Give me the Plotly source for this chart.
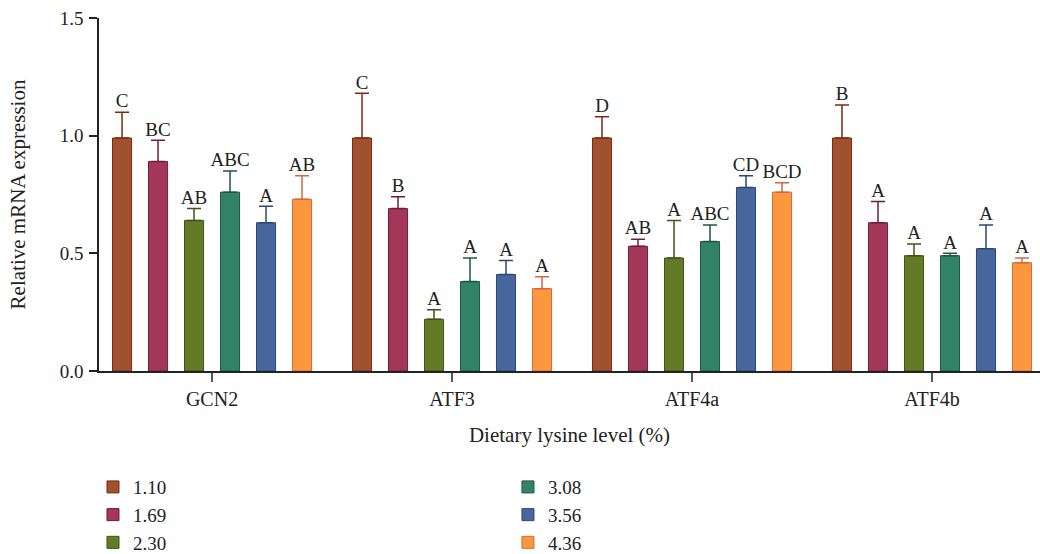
import plotly.graph_objects as go

genes = ["GCN2", "ATF3", "ATF4a", "ATF4b"]
levels = ["1.10", "1.69", "2.30", "3.08", "3.56", "4.36"]

means = {
    "1.10": [0.99, 0.99, 0.99, 0.99],
    "1.69": [0.89, 0.69, 0.53, 0.63],
    "2.30": [0.64, 0.22, 0.48, 0.49],
    "3.08": [0.76, 0.38, 0.55, 0.49],
    "3.56": [0.63, 0.41, 0.78, 0.52],
    "4.36": [0.73, 0.35, 0.76, 0.46],
}
upper = {
    "1.10": [1.10, 1.18, 1.08, 1.13],
    "1.69": [0.98, 0.74, 0.56, 0.72],
    "2.30": [0.69, 0.26, 0.64, 0.54],
    "3.08": [0.85, 0.48, 0.62, 0.50],
    "3.56": [0.70, 0.47, 0.83, 0.62],
    "4.36": [0.83, 0.40, 0.80, 0.48],
}
letters = {
    "1.10": ["C", "C", "D", "B"],
    "1.69": ["BC", "B", "AB", "A"],
    "2.30": ["AB", "A", "A", "A"],
    "3.08": ["ABC", "A", "ABC", "A"],
    "3.56": ["A", "A", "CD", "A"],
    "4.36": ["AB", "A", "BCD", "A"],
}
fill_colors = ["#A0522F", "#A3375A", "#627B27", "#318267", "#48669E", "#FB983F"]
line_colors = ["#7A2A14", "#6E1E3A", "#3F5218", "#1E5641", "#2B4672", "#D2693A"]

FONT = "Liberation Serif"
FS = 19
xpos = list(range(len(genes)))

fig = go.Figure()
for i, lv in enumerate(levels):
    fig.add_trace(go.Bar(
        x=xpos, y=means[lv], name=lv,
        marker=dict(color=fill_colors[i], line=dict(color=line_colors[i], width=1)),
        error_y=dict(type="data", symmetric=False,
                     array=[u - m for u, m in zip(upper[lv], means[lv])],
                     arrayminus=[0] * len(genes),
                     color=line_colors[i], thickness=1.5, width=7),
        legend="legend" if i < 3 else "legend2",
    ))
for i, lv in enumerate(levels):
    fig.add_trace(go.Scatter(
        x=xpos, y=upper[lv], mode="text", text=letters[lv],
        textposition="top center", textfont=dict(family=FONT, size=FS, color="#222"),
        showlegend=False, hoverinfo="skip", cliponaxis=False,
    ))

fig.update_layout(
    width=1040, height=554,
    margin=dict(l=99, r=0, t=18, b=183, autoexpand=False),
    plot_bgcolor="white", paper_bgcolor="white",
    barmode="group", bargap=0.1, bargroupgap=0.47,
    scattermode="group", scattergap=0.1,
    font=dict(family=FONT, size=FS, color="#222"),
    legend=dict(x=-0.0064, y=-0.275, xanchor="left", yanchor="top",
                font=dict(family=FONT, size=FS), tracegroupgap=0, itemwidth=30),
    legend2=dict(x=0.4346, y=-0.275, xanchor="left", yanchor="top",
                 font=dict(family=FONT, size=FS), tracegroupgap=0, itemwidth=30),
)
fig.update_xaxes(
    range=[-0.471, 3.45], tickvals=xpos, ticktext=genes,
    tickfont=dict(family=FONT, size=20),
    showline=True, linecolor="#222", linewidth=1.5,
    ticks="outside", ticklen=9, tickcolor="#555", tickwidth=1.5,
    showgrid=False, zeroline=False,
    title=dict(text="Dietary lysine level (%)", font=dict(family=FONT, size=21), standoff=19),
)
fig.update_yaxes(
    range=[0, 1.5], tickvals=[0, 0.5, 1.0, 1.5], tickformat=".1f",
    showline=True, linecolor="#222", linewidth=1.5,
    ticks="outside", ticklen=8, tickcolor="#222", tickwidth=1.5,
    ticklabelstandoff=2,
    showgrid=False, zeroline=False,
    title=dict(text="Relative mRNA expression", font=dict(family=FONT, size=21), standoff=28),
)

fig.write_html("out.html", config={"displayModeBar": False},
               post_script="document.body.style.margin='0';")
